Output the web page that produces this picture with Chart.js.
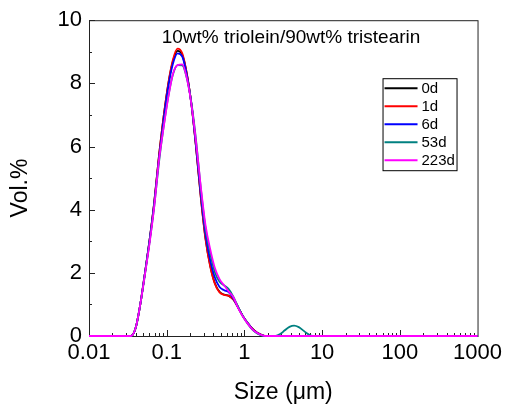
<!DOCTYPE html>
<html>
<head>
<meta charset="utf-8">
<script src="https://cdn.jsdelivr.net/npm/chart.js@4.4.1/dist/chart.umd.min.js"></script>
<style>
html, body { margin: 0; padding: 0; background: #fff; }
</style>
</head>
<body>
<canvas id="myChart" width="506" height="410"></canvas>
<script>
// particle size bins (um)
const sizes = [0.01, 0.0347, 0.0398, 0.0457, 0.0525, 0.0603, 0.0692, 0.0794, 0.0912, 0.1047,
  0.1202, 0.138, 0.1585, 0.182, 0.2089, 0.2399, 0.2754, 0.3162, 0.3631, 0.4169,
  0.4786, 0.5495, 0.631, 0.7244, 0.8318, 0.955, 1.0965, 1.2589, 1.4454, 1.6596,
  1.9055, 2.1878, 2.5119, 2.884, 3.3113, 3.8019, 4.3652, 5.0119, 5.7544, 6.6069,
  7.5858, 1000];

// Vol.% for each storage time
const d0 = [0, 0, 0.25, 1.0, 2.0, 3.05, 4.25, 5.68, 6.93, 7.97,
  8.7, 9.03, 8.9, 8.28, 7.3, 5.92, 4.38, 3.08, 2.22, 1.67,
  1.4, 1.31, 1.27, 1.15, 0.9, 0.63, 0.42, 0.24, 0.11, 0.04,
  0, 0, 0, 0, 0, 0, 0, 0, 0, 0, 0, 0];
const d1 = [0, 0, 0.25, 1.0, 2.0, 3.05, 4.25, 5.7, 6.95, 8.0,
  8.75, 9.1, 8.95, 8.3, 7.3, 5.9, 4.35, 3.05, 2.2, 1.65,
  1.38, 1.3, 1.27, 1.15, 0.9, 0.63, 0.42, 0.24, 0.11, 0.04,
  0, 0, 0, 0, 0, 0, 0, 0, 0, 0, 0, 0];
const d6 = [0, 0, 0.25, 1.0, 2.0, 3.05, 4.22, 5.62, 6.85, 7.9,
  8.62, 8.95, 8.85, 8.25, 7.3, 5.95, 4.45, 3.2, 2.4, 1.85,
  1.55, 1.45, 1.38, 1.18, 0.9, 0.63, 0.42, 0.23, 0.1, 0.03,
  0, 0, 0, 0, 0, 0, 0, 0, 0, 0, 0, 0];
const d53 = [0, 0, 0.25, 1.0, 1.95, 2.98, 4.12, 5.48, 6.62, 7.58,
  8.28, 8.58, 8.57, 8.15, 7.35, 6.15, 4.65, 3.4, 2.62, 2.02,
  1.72, 1.6, 1.48, 1.23, 0.92, 0.63, 0.4, 0.21, 0.09, 0.02,
  0, 0, 0, 0.06, 0.18, 0.29, 0.33, 0.28, 0.17, 0.06, 0, 0];
const d223 = [0, 0, 0.25, 1.0, 1.95, 2.95, 4.1, 5.55, 6.6, 7.55,
  8.3, 8.58, 8.6, 8.15, 7.3, 6.1, 4.7, 3.5, 2.75, 2.15,
  1.8, 1.6, 1.4, 1.22, 0.88, 0.62, 0.4, 0.22, 0.1, 0.03,
  0, 0, 0, 0, 0, 0, 0, 0, 0, 0, 0, 0];

const seriesLabels = ['0d', '1d', '6d', '53d', '223d'];
const seriesColors = ['#000000', '#ff0000', '#0000ff', '#008080', '#ff00ff'];
const xTickValues = [0.01, 0.1, 1, 10, 100, 1000];
const xTickLabels = ['0.01', '0.1', '1', '10', '100', '1000'];

const FONT = 'Arial, "Liberation Sans", sans-serif';

const toPoints = (vals) => sizes.map((s, i) => ({x: s, y: vals[i]}));

// frame, inward ticks, title, axis titles and legend
const framePlugin = {
  id: 'frame',
  beforeDatasetsDraw(chart) {
    const {ctx, chartArea: a, scales: {x, y}} = chart;
    ctx.save();
    ctx.strokeStyle = '#222';
    ctx.lineWidth = 1;
    ctx.strokeRect(a.left + 0.5, a.top + 0.5, a.right - a.left, a.bottom - a.top);
    ctx.beginPath();
    for (let e = -2; e <= 2; e++) {
      for (let m = 1; m <= 9; m++) {
        const px = Math.round(x.getPixelForValue(m * Math.pow(10, e))) + 0.5;
        const len = m === 1 ? 6 : 3;
        ctx.moveTo(px, a.bottom);
        ctx.lineTo(px, a.bottom - len);
      }
    }
    for (let v = 0; v <= 10; v++) {
      const py = Math.round(y.getPixelForValue(v)) + 0.5;
      const len = v % 2 === 0 ? 6 : 3;
      ctx.moveTo(a.left, py);
      ctx.lineTo(a.left + len, py);
    }
    ctx.stroke();
    ctx.restore();
  },
  afterDatasetsDraw(chart) {
    const {ctx, chartArea: a} = chart;
    ctx.save();
    ctx.fillStyle = '#000';

    // title inside plot
    ctx.font = '19px ' + FONT;
    ctx.textAlign = 'center';
    ctx.textBaseline = 'alphabetic';
    ctx.fillText('10wt% triolein/90wt% tristearin', a.left + 202, a.top + 23);

    // axis titles
    ctx.font = '23px ' + FONT;
    ctx.textBaseline = 'middle';
    ctx.fillText('Size (\u03bcm)', (a.left + a.right) / 2, 393);
    ctx.translate(21, 188);
    ctx.rotate(-Math.PI / 2);
    ctx.fillText('Vol.%', 0, 0);
    ctx.setTransform(1, 0, 0, 1, 0, 0);

    // legend box
    const lx = a.right - 95, ly = a.top + 58;
    ctx.strokeStyle = '#000';
    ctx.lineWidth = 1;
    ctx.strokeRect(lx + 0.5, ly + 0.5, 74, 92);
    ctx.font = '15px ' + FONT;
    ctx.textAlign = 'left';
    chart.data.datasets.forEach((ds, i) => {
      const cy = ly + 10 + i * 18;
      ctx.strokeStyle = ds.borderColor;
      ctx.lineWidth = 2;
      ctx.beginPath();
      ctx.moveTo(lx + 2, cy);
      ctx.lineTo(lx + 35, cy);
      ctx.stroke();
      ctx.fillText(ds.label, lx + 39, cy + 1);
    });
    ctx.restore();
  }
};

const ctx = document.getElementById('myChart').getContext('2d');
const chart = new Chart(ctx, {
  type: 'line',
  data: {
    datasets: [d0, d1, d6, d53, d223].map((vals, i) => ({
      label: seriesLabels[i],
      data: toPoints(vals),
      borderColor: seriesColors[i],
      backgroundColor: seriesColors[i],
      borderWidth: 1.8,
      pointRadius: 0,
      cubicInterpolationMode: 'monotone',
      clip: 4,
      order: 4 - i   // later series drawn on top
    }))
  },
  options: {
    responsive: false,
    animation: false,
    layout: {
      padding: {top: 20, right: 28, left: 0, bottom: 0}
    },
    plugins: {
      legend: {display: false},
      tooltip: {enabled: false}
    },
    scales: {
      x: {
        type: 'logarithmic',
        min: 0.01,
        max: 1000,
        grid: {display: false, drawTicks: false},
        border: {display: false},
        afterBuildTicks: (scale) => {
          scale.ticks = xTickValues.map(v => ({value: v}));
        },
        afterFit: (scale) => { scale.height = 74; },
        ticks: {
          autoSkip: false,
          maxRotation: 0,
          padding: 4,
          color: '#000',
          font: {family: FONT, size: 22},
          callback: (value, index) => xTickLabels[index]
        }
      },
      y: {
        min: 0,
        max: 10,
        grid: {display: false, drawTicks: false},
        border: {display: false},
        afterFit: (scale) => { scale.width = 89; },
        ticks: {
          stepSize: 2,
          padding: 7,
          color: '#000',
          font: {family: FONT, size: 22}
        }
      }
    }
  },
  plugins: [framePlugin]
});
</script>
</body>
</html>
